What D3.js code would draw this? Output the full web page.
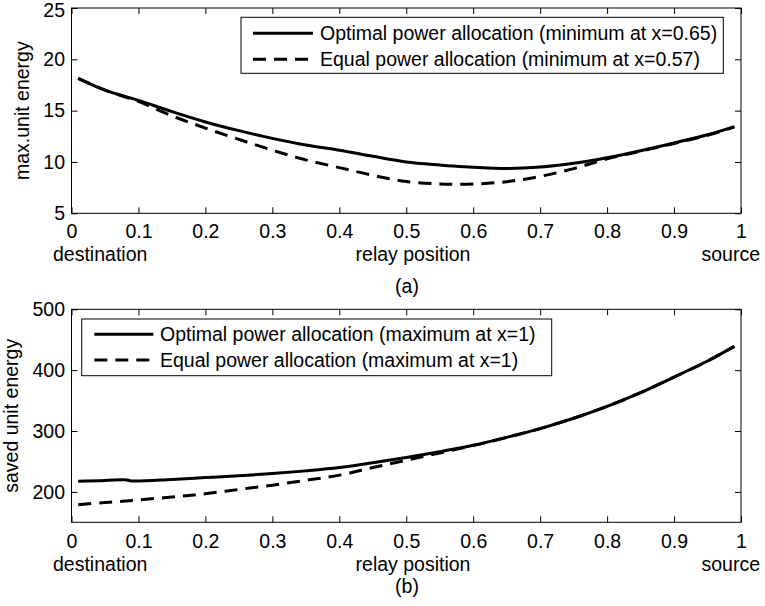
<!DOCTYPE html>
<html>
<head>
<meta charset="utf-8">
<script src="https://cdn.jsdelivr.net/npm/d3@7"></script>
<style>
  html, body { margin: 0; padding: 0; background: #fff; }
  svg { display: block; font-family: Arial, "Liberation Sans", Helvetica, sans-serif; }
</style>
</head>
<body>
<svg id="chart" width="765" height="606"></svg>
<script>
// ---------- data ----------
const xTicks = [0, 0.1, 0.2, 0.3, 0.4, 0.5, 0.6, 0.7, 0.8, 0.9, 1];
const xTickLabels = ["0", "0.1", "0.2", "0.3", "0.4", "0.5", "0.6", "0.7", "0.8", "0.9", "1"];

// (a) max. unit energy
const xA = [0.01, 0.05, 0.1, 0.15, 0.2, 0.25, 0.3, 0.35, 0.4, 0.45, 0.5, 0.55, 0.57, 0.6, 0.65, 0.7, 0.75, 0.8, 0.85, 0.9, 0.95, 0.99];
const optimalA = [18.15, 17.0, 16.0, 14.9, 13.9, 13.05, 12.3, 11.65, 11.15, 10.55, 10.0, 9.7, 9.6, 9.48, 9.36, 9.5, 9.87, 10.42, 11.1, 11.85, 12.65, 13.45];
const equalA = [18.15, 17.0, 15.9, 14.5, 13.3, 12.2, 11.15, 10.2, 9.45, 8.7, 8.1, 7.85, 7.82, 7.85, 8.08, 8.6, 9.35, 10.3, 11.05, 11.8, 12.6, 13.4];
const yTicksA = [5, 10, 15, 20, 25];
const legendA = ["Optimal power allocation (minimum at x=0.65)", "Equal power allocation (minimum at x=0.57)"];

// (b) saved unit energy
const xB = [0.01, 0.05, 0.08, 0.09, 0.15, 0.2, 0.25, 0.3, 0.35, 0.4, 0.45, 0.5, 0.55, 0.6, 0.65, 0.7, 0.75, 0.8, 0.85, 0.9, 0.95, 0.99];
const optimalB = [217.5, 218.5, 220, 218, 220.5, 223.5, 226.5, 230, 234.5, 240, 248, 256.5, 266, 276.5, 289.5, 304, 321, 340.5, 363, 388.6, 415, 439];
const equalB = [179, 182.5, 185, 186, 191.5, 197, 204, 211, 219, 227.5, 240, 252, 264, 276, 289.5, 304, 321, 340.5, 363, 388.6, 415, 439];
const yTicksB = [200, 300, 400, 500];
const legendB = ["Optimal power allocation (maximum at x=1)", "Equal power allocation (maximum at x=1)"];

// ---------- drawing ----------
const svg = d3.select("#chart");
const FS = "19.5px";
const x = d3.scaleLinear().domain([0, 1]).range([71.5, 741]);

function panel(cfg) {
  const g = svg.append("g");
  const y = d3.scaleLinear().domain(cfg.yDomain).range([cfg.bottom, cfg.top]);

  // axes with inward ticks
  const bottomAx = d3.axisBottom(x).tickValues(xTicks).tickFormat((d, i) => xTickLabels[i])
    .tickSizeInner(-6).tickSizeOuter(0).tickPadding(cfg.xPad);
  const topAx = d3.axisTop(x).tickValues(xTicks).tickFormat("").tickSizeInner(-6).tickSizeOuter(0);
  const leftAx = d3.axisLeft(y).tickValues(cfg.yTicks).tickSizeInner(-6).tickSizeOuter(0).tickPadding(6.5);
  const rightAx = d3.axisRight(y).tickValues(cfg.yTicks).tickFormat("").tickSizeInner(-6).tickSizeOuter(0);

  const axes = [
    g.append("g").attr("transform", `translate(0,${cfg.bottom})`).call(bottomAx),
    g.append("g").attr("transform", `translate(0,${cfg.top})`).call(topAx),
    g.append("g").attr("transform", `translate(${x.range()[0]},0)`).call(leftAx),
    g.append("g").attr("transform", `translate(${x.range()[1]},0)`).call(rightAx)
  ];
  axes.forEach(a => {
    a.select(".domain").remove();
    a.selectAll("line").attr("stroke", "#000").attr("stroke-width", 1);
    a.selectAll("text").attr("font-size", FS).attr("fill", "#000").attr("font-family", null);
  });
  // keep the topmost y tick label inside the picture
  axes[2].selectAll(".tick text").filter(d => y(d) < 12).attr("dy", "0.45em");

  // frame
  g.append("rect")
    .attr("x", x.range()[0]).attr("y", cfg.top)
    .attr("width", x.range()[1] - x.range()[0]).attr("height", cfg.bottom - cfg.top)
    .attr("fill", "none").attr("stroke", "#000").attr("stroke-width", 1);

  // lines
  const line = d3.line().x(d => x(d[0])).y(d => y(d[1])).curve(d3.curveCatmullRom.alpha(0.5));
  g.append("path").datum(cfg.xs.map((v, i) => [v, cfg.opt[i]]))
    .attr("d", line).attr("fill", "none").attr("stroke", "#000").attr("stroke-width", 3);
  g.append("path").datum(cfg.xs.map((v, i) => [v, cfg.eq[i]]))
    .attr("d", line).attr("fill", "none").attr("stroke", "#000").attr("stroke-width", 3)
    .attr("stroke-dasharray", "13,8");

  // legend
  const L = cfg.legend;
  g.append("rect").attr("x", L.x0).attr("y", L.y0).attr("width", L.x1 - L.x0).attr("height", L.y1 - L.y0)
    .attr("fill", "#fff").attr("stroke", "#000").attr("stroke-width", 1);
  cfg.legendText.forEach((t, i) => {
    const yy = L.rows[i];
    g.append("line").attr("x1", L.lx0).attr("x2", L.lx1).attr("y1", yy).attr("y2", yy)
      .attr("stroke", "#000").attr("stroke-width", 3)
      .attr("stroke-dasharray", i === 1 ? "13,8" : null);
    g.append("text").attr("x", L.tx).attr("y", yy).attr("dy", "0.35em")
      .attr("font-size", FS).text(t);
  });

  // y label
  g.append("text").attr("transform", `translate(${cfg.yLabelX},${(cfg.top + cfg.bottom) / 2}) rotate(-90)`)
    .attr("text-anchor", "middle").attr("font-size", FS).text(cfg.yLabel);

  // x labels
  g.append("text").attr("x", 53).attr("y", cfg.xLabelY).attr("font-size", FS).text("destination");
  g.append("text").attr("x", 413).attr("y", cfg.xLabelY).attr("text-anchor", "middle").attr("font-size", FS).text("relay position");
  g.append("text").attr("x", 760).attr("y", cfg.xLabelY).attr("text-anchor", "end").attr("font-size", FS).text("source");
  g.append("text").attr("x", 407).attr("y", cfg.capY).attr("text-anchor", "middle").attr("font-size", FS).text(cfg.caption);
}

panel({
  top: 8, bottom: 213.3, yDomain: [5, 25], yTicks: yTicksA, xPad: 11,
  xs: xA, opt: optimalA, eq: equalA,
  legend: { x0: 241, x1: 723.3, y0: 17.3, y1: 73.3, rows: [33.3, 59.3], lx0: 253, lx1: 313, tx: 320 },
  legendText: legendA,
  yLabel: "max.unit energy", yLabelX: 29, xLabelY: 261, caption: "(a)", capY: 293
});

panel({
  top: 309.3, bottom: 522.3, yDomain: [150, 500], yTicks: yTicksB, xPad: 12,
  xs: xB, opt: optimalB, eq: equalB,
  legend: { x0: 81.7, x1: 551.7, y0: 319, y1: 375.7, rows: [334.3, 360], lx0: 94.3, lx1: 153.3, tx: 160 },
  legendText: legendB,
  yLabel: "saved unit energy", yLabelX: 18, xLabelY: 570.7, caption: "(b)", capY: 593
});
</script>
</body>
</html>
